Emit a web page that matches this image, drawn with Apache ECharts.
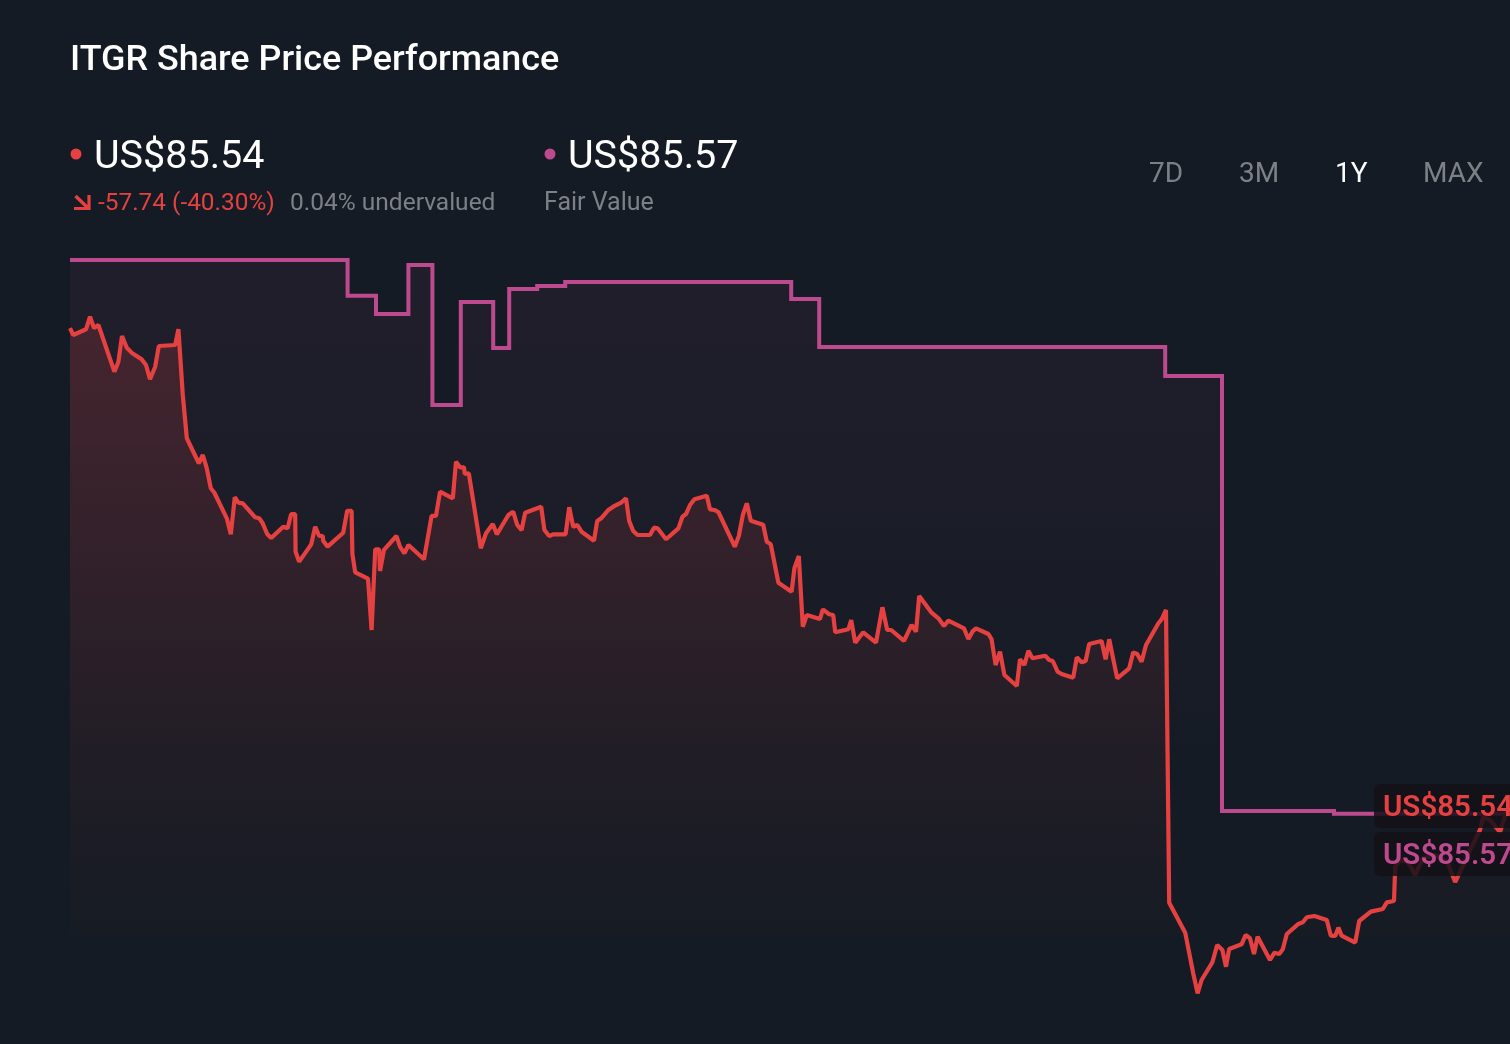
<!DOCTYPE html>
<html>
<head>
<meta charset="utf-8">
<title>ITGR Share Price Performance</title>
<script src="https://cdn.jsdelivr.net/npm/echarts@6/dist/echarts.min.js"></script>
<style>
html,body{margin:0;padding:0;background:#151b24;overflow:hidden;}
#chart{width:1510px;height:1044px;}
</style>
</head>
<body>
<div id="chart"></div>
<script>
// days since the start of the 1Y window, and share price in US$
var priceDays = [0,0.8,4,5,6,7.1,11.1,12.1,13,14.2,15.4,17.9,19,20,21.3,22.2,26.3,27.1,28.2,29.2,32.2,33.2,34.2,35.2,36.1,39.2,40.2,40.5,41.2,42.1,43.2,46.3,47.3,48.1,49.3,50.3,53.3,54.4,55.3,56.3,56.4,57.3,60.3,61.3,62.3,63.2,63.3,64.4,68.3,69.3,70.4,70.6,71.3,74.5,75.4,76.3,77.3,77.5,78.5,81.6,82.5,83.6,84.6,88.5,90.4,91.5,92.5,95.7,96.5,97.5,98.5,98.7,99.7,102.7,103.2,104,105.7,106.7,109.6,110.8,111.8,112.9,113.8,117.8,118.6,119.8,120.8,123.9,124.8,125.8,126.8,127.9,131,131.8,132.8,134.6,135.8,137.9,139,139.8,140.8,141.9,145,146,146.9,149,152.1,153.1,154,155,156.1,159.2,160,161.1,162.1,166.2,167.2,168.2,169.2,170.2,173.3,174.2,175.2,176.3,177.1,180.4,181.1,182.2,183.2,183.5,184.2,187.5,188.2,189.8,190.8,191.3,194.6,195.3,196.3,198.3,201.5,203.1,203.6,204.3,205.3,208.5,210.4,211.5,212.3,215.4,217.1,218.5,219.6,223.5,224.6,225.7,226.5,229.6,230.4,231.4,232.5,232.9,233.6,236.7,237.5,238.6,239.6,240.6,243.8,244.8,245.7,246.9,247.9,250.8,251.7,252.9,253.9,254.8,257.9,258.9,259.8,261.8,264.8,265.8,266.8,267.9,269,272.1,272.9,274,274.8,278.8,280.8,281.9,282.9,285.6,286.8,288.1,289,289.8,292.9,293.9,295,296,296.9,300,301.1,302.3,303.2,304.2,307.1,308.2,309.2,311.1,314.2,315.2,316.3,317.1,317.9,321.3,322.3,325.2,328.2,329.2,331,331.3,332.5,334.5,336.3,338.3,341.5,344.3,346.3,348.3,350,352.5,353.3,355,357.5,358.8,360];
var priceValues = [143.28,142.45,143.13,144.62,143.28,143.64,138.09,139.28,142.33,140.94,140.35,139.56,138.88,137.19,138.68,141.14,141.26,143.13,135.32,130.18,127.21,128.19,126.61,124.24,123.71,120.67,118.77,118.81,123.17,122.53,122.45,120.79,120.67,120.15,118.81,118.33,119.67,119.48,121.18,121.18,116.7,115.52,117.58,119.67,118.57,118.57,118.01,117.3,118.96,121.57,121.57,116.43,114.26,113.5,107.4,116.99,116.99,114.41,116.91,118.57,117.3,116.51,117.5,115.8,120.95,120.95,123.83,123.05,127.4,126.73,126.73,125.94,126.02,117.11,117.14,118.89,120,118.77,121.06,121.46,119.88,119.28,121.34,122.05,119.28,118.57,118.77,118.77,121.98,119.67,119.88,119.08,118.01,120.35,120.67,121.66,122.05,122.57,123.05,120.35,119.16,118.69,118.69,119.56,119.48,118.18,119.48,120.86,121.18,122.25,122.93,123.36,121.74,121.66,121.42,117.3,118.57,121.06,122.45,120.39,119.91,117.89,117.58,114.92,113.02,111.95,114.73,116.19,107.79,107.79,109.18,108.71,109.86,109.27,109.18,107.13,107.49,108.59,105.89,107.13,105.89,110.1,110.1,107.4,107.4,106.1,108,107.2,111.44,109.46,108.79,107.88,108.51,107.6,106.33,107.28,107.6,106.93,106.3,103.24,104.82,104.82,102.06,100.75,103.92,103.24,104.94,104.04,104.35,103.84,103.72,102.45,102.18,101.74,104.16,103.57,103.72,105.74,106.1,103.92,106.3,101.66,102.85,104.75,104.55,103.64,105.62,108.2,108.67,109.78,75.01,71.44,66.62,64.24,65.82,67.93,69.98,69.39,67.4,69.51,70.06,71.17,70.78,68.91,70.97,68.2,69.07,68.91,69.47,71.29,72.48,72.68,73.27,73.43,72.95,71.09,71.05,72.04,71.09,70.25,72.83,73.94,74.26,75.05,75.21,79.25,80.08,79.84,78.3,80.32,80.67,79.84,77.46,79.48,81.27,83.64,85.19,84.83,83.4,85.42,85.54];

// days on which the fair value changed, and its level in US$
var fairDays = [0,69.4,76.5,84.6,90.6,97.7,105.8,109.8,116.8,123.8,180.3,187.3,273.8,288,316,360];
var fairValues = [151.36,147.12,144.94,150.76,134.13,146.37,140.9,147.91,148.27,148.74,146.73,141.02,137.58,85.9,85.57,85.57];

var titleText = "ITGR Share Price Performance";
var lastPrice = "US$85.54";
var priceChange = "-57.74 (-40.30%)";
var valuation = "0.04% undervalued";
var fairPrice = "US$85.57";
var fairLabel = "Fair Value";
var ranges = ["7D","3M","1Y","MAX"];

var RED = "#e64141";
var PINK = "#bd4a8e";
var GREY = "#7d8187";

function zip(xs, ys){
	var out = [];
	for(var i = 0; i < xs.length; i++){
		out.push([xs[i], ys[i]]);
	}
	return out;
}

function txt(x, y, s, size, color, weight){
	return {
		type:"text", x:x, y:y, z:100,
		style:{
			text:s, fill:color,
			font:(weight || 400) + " " + size + "px Roboto",
			textVerticalAlign:"middle"
		}
	};
}

function dot(x, y, color){
	return {type:"circle", z:100, shape:{cx:x, cy:y, r:5.5}, style:{fill:color}};
}

function fade(r, g, b, a, endY){
	// global gradient, so it fades by page position and not per shape
	return new echarts.graphic.LinearGradient(0, 250, 0, endY, [
		{offset:0, color:"rgba("+r+","+g+","+b+","+a+")"},
		{offset:1, color:"rgba("+r+","+g+","+b+",0)"}
	], true);
}

var myChart = echarts.init(document.getElementById("chart"), null, {renderer:"canvas"});

var graphics = [
	txt(70, 61, titleText, 35.9, "#ffffff", 500),
	dot(76, 154, RED),
	txt(94, 158.5, lastPrice, 39.5, "#ffffff", 400),
	{type:"polyline", z:100, shape:{points:[[75.5,196],[88,208]]}, style:{stroke:RED, lineWidth:3.4, fill:null}},
	{type:"polyline", z:100, shape:{points:[[74,208.5],[89,208.5],[89,195]]}, style:{stroke:RED, lineWidth:3.2, fill:null}},
	txt(98, 204, priceChange, 24.4, RED),
	txt(290, 204, valuation, 24.5, GREY),
	dot(550, 154, PINK),
	txt(568, 158.5, fairPrice, 39.5, "#ffffff", 400),
	txt(544, 204, fairLabel, 25, GREY),
	txt(1149, 175, ranges[0], 28, GREY),
	txt(1239, 175, ranges[1], 28, GREY),
	txt(1335, 175, ranges[2], 28, "#ffffff"),
	txt(1423, 175, ranges[3], 28, GREY),
	{type:"rect", z:99, shape:{x:1374, y:784, width:150, height:44, r:6}, style:{fill:"rgba(20,17,24,0.85)"}},
	{type:"rect", z:99, shape:{x:1374, y:832, width:150, height:44, r:6}, style:{fill:"rgba(20,17,24,0.85)"}},
	txt(1383, 809, lastPrice, 29.5, RED, 600),
	txt(1383, 857, fairPrice, 29.5, PINK, 600)
];

var option = {
	animation:false,
	backgroundColor:"#151b24",
	grid:{left:70, right:0, top:229.35, bottom:15},
	xAxis:{type:"value", min:0, max:360, show:false},
	yAxis:{type:"value", min:60, max:155, show:false, splitLine:{show:false}},
	series:[
		{
			name:"Fair Value",
			type:"line",
			step:"end",
			symbol:"none",
			clip:false,
			data:zip(fairDays, fairValues),
			lineStyle:{color:PINK, width:4, join:"miter"},
			areaStyle:{origin:"start", color:fade(189,74,142,0.1,760)}
		},
		{
			name:"Share Price",
			type:"line",
			symbol:"none",
			clip:false,
			data:zip(priceDays, priceValues),
			lineStyle:{color:RED, width:4.2, join:"bevel"},
			areaStyle:{origin:"start", color:fade(230,65,65,0.3,945)}
		}
	],
	graphic:{elements:graphics}
};

myChart.setOption(option);
</script>
</body>
</html>
